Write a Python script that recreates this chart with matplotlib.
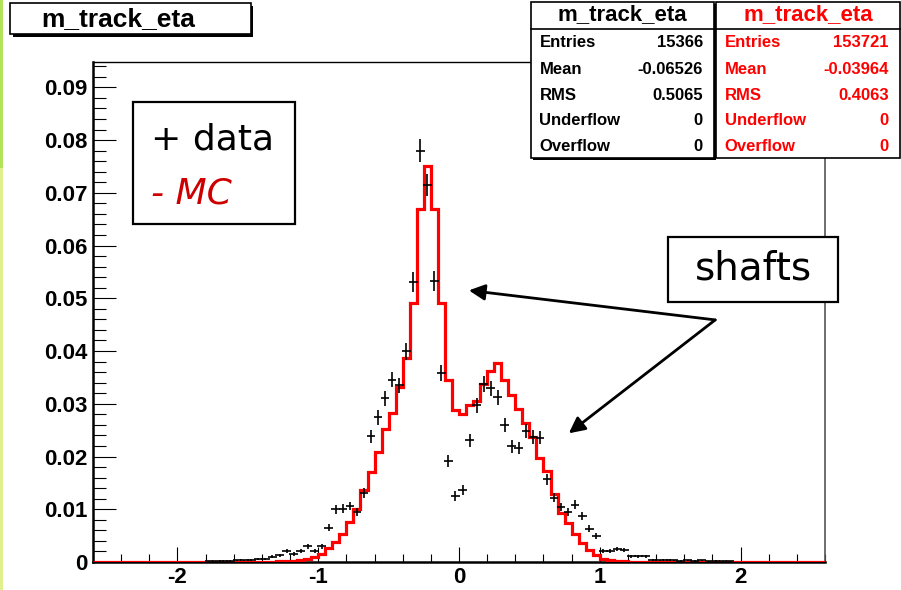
import numpy as np
import matplotlib
matplotlib.use("Agg")
import matplotlib.pyplot as plt
from matplotlib.patches import Rectangle
from matplotlib.ticker import MultipleLocator, FuncFormatter

plt.rcParams['axes.unicode_minus'] = False
plt.rcParams['font.family'] = ['Liberation Sans', 'DejaVu Sans']

W, H = 901, 590

# histogram binning (0.05 wide bins over -2.6 .. 2.6)
bin_edges = np.round(np.arange(-2.6, 2.6001, 0.05), 3)

# MC (red line), bin centres and contents
mc_x = [-1.275, -1.225, -1.175, -1.125, -1.075, -1.025, -0.975, -0.925, -0.875, -0.825,
        -0.775, -0.725, -0.675, -0.625, -0.575, -0.525, -0.475, -0.425, -0.375, -0.325,
        -0.275, -0.225, -0.175, -0.125, -0.075, -0.025, 0.025, 0.075, 0.125, 0.175,
        0.225, 0.275, 0.325, 0.375, 0.425, 0.475, 0.525, 0.575, 0.625, 0.675,
        0.725, 0.775, 0.825, 0.875, 0.925, 0.975, 1.025, 1.075, 1.125, 1.175]
mc_y = [0.0001, 0.0001, 0.0002, 0.0003, 0.0005, 0.0009, 0.0016, 0.0027, 0.0038, 0.0053,
        0.0076, 0.0101, 0.0136, 0.0171, 0.0209, 0.0253, 0.0283, 0.0332, 0.0386, 0.0491,
        0.0669, 0.0751, 0.0670, 0.0491, 0.0346, 0.0288, 0.0280, 0.0297, 0.0305, 0.0338,
        0.0362, 0.0378, 0.0346, 0.0316, 0.0291, 0.0263, 0.0237, 0.0197, 0.0173, 0.0129,
        0.0093, 0.0073, 0.0054, 0.0036, 0.0022, 0.0013, 0.0006, 0.0003, 0.0001, 0.0001]

# data (black crosses)
data_x = [-1.775, -1.725, -1.675, -1.625, -1.575, -1.525, -1.475, -1.425, -1.375, -1.325,
          -1.275, -1.225, -1.175, -1.125, -1.075, -1.025, -0.975, -0.925, -0.875, -0.825,
          -0.775, -0.725, -0.675, -0.625, -0.575, -0.525, -0.475, -0.425, -0.375, -0.325,
          -0.275, -0.225, -0.175, -0.125, -0.075, -0.025, 0.025, 0.075, 0.125, 0.175,
          0.225, 0.275, 0.325, 0.375, 0.425, 0.475, 0.525, 0.575, 0.625, 0.675,
          0.725, 0.775, 0.825, 0.875, 0.925, 0.975, 1.025, 1.075, 1.125, 1.175,
          1.225, 1.275, 1.325, 1.375, 1.425, 1.475, 1.525, 1.575, 1.625, 1.675,
          1.725, 1.775, 1.825, 1.875, 1.925]
data_y = [0.0001, 0.0001, 0.0002, 0.0002, 0.0003, 0.0003, 0.0004, 0.0005, 0.0006, 0.0010,
          0.0013, 0.0021, 0.0015, 0.0021, 0.0030, 0.0021, 0.0030, 0.0065, 0.0100, 0.0101,
          0.0106, 0.0095, 0.0131, 0.0238, 0.0274, 0.0310, 0.0346, 0.0335, 0.0400, 0.0531,
          0.0780, 0.0715, 0.0533, 0.0359, 0.0192, 0.0125, 0.0137, 0.0231, 0.0297, 0.0337,
          0.0329, 0.0312, 0.0260, 0.0219, 0.0216, 0.0248, 0.0237, 0.0236, 0.0157, 0.0122,
          0.0104, 0.0095, 0.0109, 0.0087, 0.0063, 0.0049, 0.0021, 0.0021, 0.0025, 0.0022,
          0.0011, 0.0011, 0.0011, 0.0004, 0.0003, 0.0004, 0.0003, 0.0002, 0.0003, 0.0002,
          0.0003, 0.0001, 0.0002, 0.0001, 0.0001]

hist_name = "m_track_eta"
stat_labels = ["Entries", "Mean", "RMS", "Underflow", "Overflow"]
data_stats = ["15366", "-0.06526", "0.5065", "0", "0"]
mc_stats = ["153721", "-0.03964", "0.4063", "0", "0"]
data_entries = 15366

x_ticks = [-2, -1, 0, 1, 2]


def fx(x):
    return x / W


def fy(y):
    return 1 - y / H


def box(fig, x0, y0, x1, y1, lw=1.5, shadow=0):
    # box given in image pixels (top-left origin)
    if shadow:
        fig.patches.append(Rectangle((fx(x0 + shadow), fy(y1 + shadow)), fx(x1 - x0), (y1 - y0) / H,
                                     transform=fig.transFigure, facecolor='black',
                                     edgecolor='black', lw=0, zorder=9))
    fig.patches.append(Rectangle((fx(x0), fy(y1)), fx(x1 - x0), (y1 - y0) / H,
                                 transform=fig.transFigure, facecolor='white',
                                 edgecolor='black', lw=lw, zorder=10))


fig = plt.figure(figsize=(W / 100, H / 100), dpi=100)
ax = fig.add_axes([fx(93), fy(562), fx(825 - 93), (562 - 62) / H])

err = np.sqrt(np.array(data_y) / data_entries)
ax.errorbar(data_x, data_y, xerr=0.031, yerr=err, fmt='none', ecolor='black',
            elinewidth=1.2, capsize=0, zorder=4)
ax.hist(mc_x, bins=bin_edges, weights=mc_y, histtype='step', color='#ff0000',
        lw=2.3, zorder=3)

ax.set_xlim(-2.6, 2.6)
ax.set_ylim(0, 0.0948)
ax.xaxis.set_major_locator(MultipleLocator(1))
ax.xaxis.set_minor_locator(MultipleLocator(0.2))
ax.yaxis.set_major_locator(MultipleLocator(0.01))
ax.yaxis.set_minor_locator(MultipleLocator(0.002))
ax.set_xticks(x_ticks)
ax.yaxis.set_major_formatter(FuncFormatter(lambda v, p: '0' if abs(v) < 1e-9 else '%.2f' % v))
ax.xaxis.set_major_formatter(FuncFormatter(lambda v, p: '%d' % round(v)))
ax.tick_params(axis='y', which='major', direction='in', length=16.5, width=0.8, pad=4,
               labelsize=16)
ax.tick_params(axis='y', which='minor', direction='in', length=9, width=0.8)
ax.tick_params(axis='x', which='major', direction='in', length=11, width=0.8, pad=3.5,
               labelsize=16)
ax.tick_params(axis='x', which='minor', direction='in', length=6, width=0.8)
for lab in ax.get_xticklabels() + ax.get_yticklabels():
    lab.set_fontweight('bold')
ax.spines['left'].set_linewidth(1.8)
ax.spines['bottom'].set_linewidth(1.8)
ax.spines['top'].set_linewidth(1.0)
ax.spines['right'].set_linewidth(1.2)
ax.spines['right'].set_color('#555555')

# green strip at the left border
fig.patches.append(Rectangle((0, fy(168)), fx(3), 168 / H, transform=fig.transFigure,
                             facecolor='#b2e35a', lw=0))
fig.patches.append(Rectangle((0, 0), fx(3), fy(168), transform=fig.transFigure,
                             facecolor='#e0f08e', lw=0))

# title box
box(fig, 10, 3, 251, 34, lw=1.2, shadow=2.5)
fig.text(fx(118), fy(19), hist_name, ha='center', va='center', fontsize=19,
         fontweight='bold', zorder=11)

# stats boxes
for i, (x0, x1, vals, col) in enumerate([(531, 714, data_stats, 'black'),
                                         (716, 900, mc_stats, '#ff0000')]):
    box(fig, x0, 2, x1, 158, lw=1.2, shadow=2 if i == 0 else 0)
    fig.lines.append(plt.Line2D([fx(x0), fx(x1)], [fy(28.5), fy(28.5)],
                                transform=fig.transFigure, color='black', lw=1.2, zorder=11))
    fig.text(fx((x0 + x1) / 2), fy(15), hist_name, ha='center', va='center', fontsize=16,
             fontweight='bold', color=col, zorder=11)
    for j, (lab, val) in enumerate(zip(stat_labels, vals)):
        yy = [42.7, 69.3, 95, 120.5, 146.7][j]
        fig.text(fx(x0 + 8.5), fy(yy), lab, ha='left', va='center', fontsize=12,
                 fontweight='bold', color=col, zorder=11)
        fig.text(fx(x1 - 11), fy(yy), val, ha='right', va='center', fontsize=12,
                 fontweight='bold', color=col, zorder=11)

# legend box
box(fig, 133, 102, 295, 224, lw=1.6)
fig.text(fx(151), fy(150), "+ data", ha='left', va='baseline', fontsize=26,
         family='DejaVu Sans', color='black', zorder=11)
fig.text(fx(151), fy(203), "- MC", ha='left', va='baseline', fontsize=26,
         family='DejaVu Sans', style='italic', color='#cc0000', zorder=11)

# shafts label and arrows
box(fig, 668, 237, 838, 302, lw=1.6)
fig.text(fx(753), fy(279), "shafts", ha='center', va='baseline', fontsize=28,
         family='DejaVu Sans', color='black', zorder=11)
for tx, ty in [(0.07, 0.0515), (0.78, 0.0244)]:
    ax.annotate("", xy=(tx, ty), xytext=(1.82, 0.0459),
                arrowprops=dict(arrowstyle='-|>', color='black', lw=2.0,
                                mutation_scale=24, shrinkA=0, shrinkB=0),
                annotation_clip=False, zorder=6)

fig.savefig("out.png", dpi=100)
